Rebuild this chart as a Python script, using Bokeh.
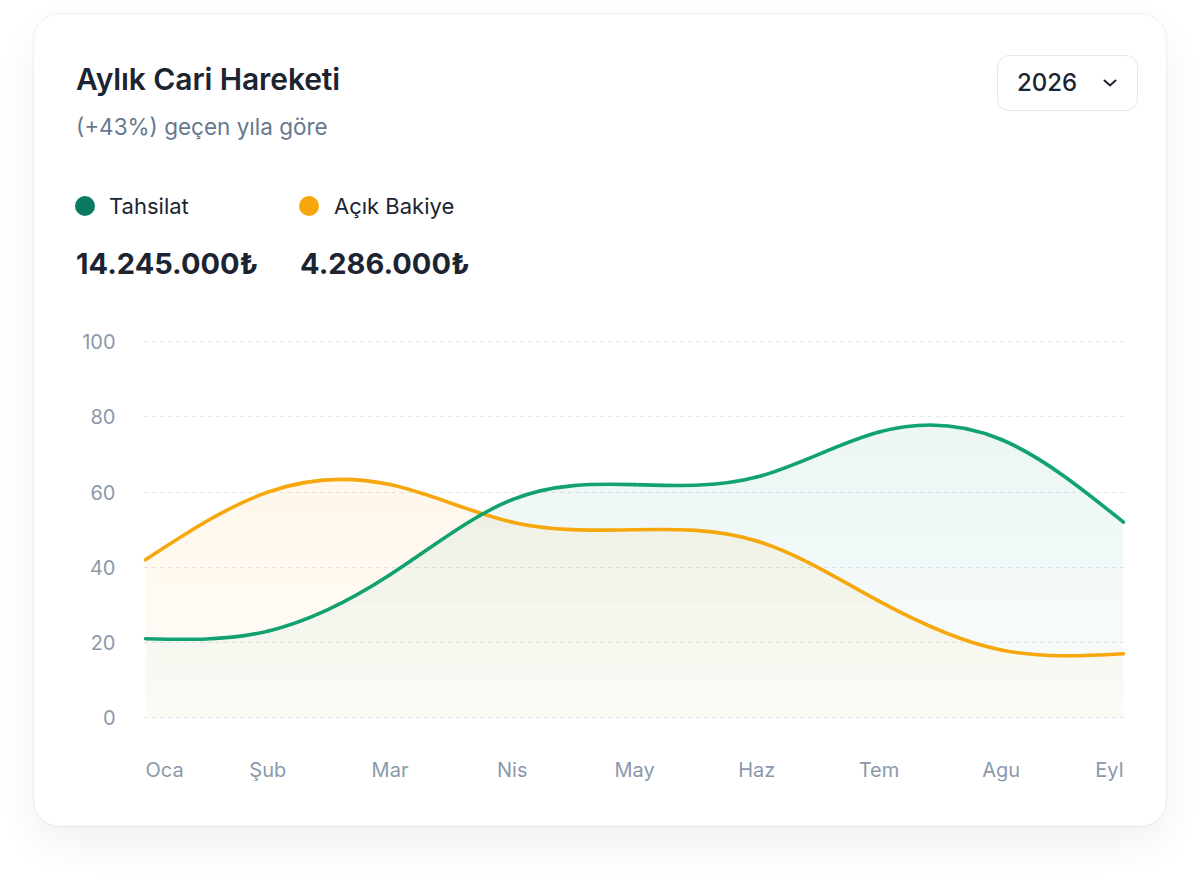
import numpy as np
from bokeh.plotting import figure
from bokeh.models import Div, Range1d, FixedTicker
from bokeh.layouts import column
from bokeh.core.properties import value
from bokeh.embed import file_html
from bokeh.resources import INLINE

months = ["Oca", "Şub", "Mar", "Nis", "May", "Haz", "Tem", "Agu", "Eyl"]
tahsilat = [21, 23, 38, 58, 62, 64, 76, 74, 52]
acik_bakiye = [42, 60, 62, 52, 50, 47, 31, 18, 17]
y_ticks = [0, 20, 40, 60, 80, 100]

title = "Aylık Cari Hareketi"
subtitle = "(+43%) geçen yıla göre"
year = "2026"
series_names = ["Tahsilat", "Açık Bakiye"]
totals = ["14.245.000₺", "4.286.000₺"]

GREEN = "#12a272"
GREEN_FILL = "#10b981"
DOT_GREEN = "#0a7a63"
ORANGE = "#f6a70b"
ORANGE_FILL = "#f8bb10"
AXIS_TEXT = "#8a99ab"
FONT = "Inter"
LABEL_ROW = -14  # month names sit under the zero line


def natural_bezier(ys):
    """Bezier segments of a natural cubic spline through evenly spaced points."""
    y = np.asarray(ys, dtype=float)
    n = len(y)
    a = np.zeros((n, n))
    rhs = np.zeros(n)
    a[0, 0] = a[-1, -1] = 1
    for i in range(1, n - 1):
        a[i, i - 1:i + 2] = [1, 4, 1]
        rhs[i] = 6 * (y[i + 1] - 2 * y[i] + y[i - 1])
    m = np.linalg.solve(a, rhs)
    x0 = np.arange(n - 1, dtype=float)
    d = np.diff(y)
    s0 = d - (2 * m[:-1] + m[1:]) / 6
    s1 = d + (m[:-1] + 2 * m[1:]) / 6
    return dict(x0=x0, y0=y[:-1], x1=x0 + 1, y1=y[1:],
                cx0=x0 + 1 / 3, cy0=y[:-1] + s0 / 3,
                cx1=x0 + 2 / 3, cy1=y[1:] - s1 / 3)


def trace(seg, steps=30):
    # points along the bezier segments, used for the area fill
    t = np.linspace(0, 1, steps)[:, None]
    out = []
    for k in ("x", "y"):
        p0, c0, c1, p1 = seg[k + "0"], seg["c" + k + "0"], seg["c" + k + "1"], seg[k + "1"]
        v = ((1 - t) ** 3) * p0 + 3 * ((1 - t) ** 2) * t * c0 + 3 * (1 - t) * t ** 2 * c1 + t ** 3 * p1
        out.append(v.T.ravel())
    return out[0], out[1]


p = figure(width=1132, height=522, x_range=Range1d(-0.0164, 8.0164), y_range=Range1d(-17, 103),
           output_backend="svg", toolbar_location=None,
           min_border_left=109, min_border_right=41, min_border_top=26, min_border_bottom=45,
           background_fill_color=None, border_fill_color=None, outline_line_color=None)

# faint vertical gradient under each curve, built from stacked layers
for values, color, base, step, start in ((tahsilat, GREEN_FILL, 0.022, 0.008, 10),
                                         (acik_bakiye, ORANGE_FILL, 0.026, 0.008, 5)):
    xs, ys = trace(natural_bezier(values))
    p.varea(x=xs, y1=0, y2=ys, fill_color=color, fill_alpha=base)
    for lo in range(start, 100, 10):
        p.varea(x=xs, y1=np.minimum(ys, lo), y2=ys, fill_color=color, fill_alpha=step)

for values, color in ((acik_bakiye, ORANGE), (tahsilat, GREEN)):
    p.bezier(line_color=color, line_width=3.6, line_cap="round", **natural_bezier(values))

# month labels: first one left-aligned, last one right-aligned
aligns = ["left"] + ["center"] * (len(months) - 2) + ["right"]
p.text(x=list(range(len(months))), y=[LABEL_ROW] * len(months), text=months,
       text_align=aligns, text_baseline="middle", text_font=value(FONT),
       text_font_size="20px", text_color=AXIS_TEXT)

p.xaxis.visible = False
p.yaxis.ticker = FixedTicker(ticks=y_ticks)
p.yaxis.axis_line_color = None
p.yaxis.major_tick_line_color = None
p.yaxis.minor_tick_line_color = None
p.yaxis.major_tick_out = 0
p.yaxis.major_label_text_font = FONT
p.yaxis.major_label_text_font_size = "20px"
p.yaxis.major_label_text_color = AXIS_TEXT
p.yaxis.major_label_standoff = 28

p.xgrid.visible = False
p.ygrid.ticker = FixedTicker(ticks=y_ticks)
p.ygrid.grid_line_color = "#e1e5ea"
p.ygrid.grid_line_dash = "4 4"
p.ygrid.grid_line_width = 1

header = Div(width=1132, height=290, margin=0, text=f"""
<div style="position:relative;width:1132px;height:290px;font-family:Inter,sans-serif;color:#1d2431;">
  <div style="position:absolute;left:42px;top:50px;font-size:30px;font-weight:600;line-height:30px;letter-spacing:-0.1px;white-space:nowrap;">{title}</div>
  <div style="position:absolute;left:42px;top:102px;font-size:22.5px;line-height:22.5px;color:#66788f;white-space:nowrap;">{subtitle}</div>
  <div style="position:absolute;left:963px;top:41px;width:141px;height:56px;box-sizing:border-box;border:1.5px solid #e6e8ec;border-radius:12px;display:flex;align-items:center;">
    <span style="position:absolute;left:19px;font-size:24px;line-height:24px;font-weight:500;">{year}</span>
    <svg style="position:absolute;left:105px;top:23px;" width="14" height="8"><polyline points="1.5,1.5 7,6.5 12.5,1.5" stroke="#1d2431" stroke-width="2" fill="none" stroke-linecap="round"/></svg>
  </div>
  <div style="position:absolute;left:41px;top:182px;width:20px;height:20px;border-radius:50%;background:{DOT_GREEN};"></div>
  <div style="position:absolute;left:75px;top:181px;font-size:22px;line-height:22px;white-space:nowrap;">{series_names[0]}</div>
  <div style="position:absolute;left:265px;top:182px;width:20px;height:20px;border-radius:50%;background:{ORANGE};"></div>
  <div style="position:absolute;left:300px;top:181px;font-size:22px;line-height:22px;white-space:nowrap;">{series_names[1]}</div>
  <div style="position:absolute;left:42px;top:235px;font-size:29px;line-height:29px;font-weight:700;white-space:nowrap;">{totals[0]}</div>
  <div style="position:absolute;left:266px;top:235px;font-size:29px;line-height:29px;font-weight:700;white-space:nowrap;">{totals[1]}</div>
</div>
""")

root = column(header, p, width=1132, margin=(14, 0, 0, 34), styles={
    "background-color": "#ffffff",
    "border-radius": "26px",
    "box-shadow": "0 0 0 1px rgba(17,24,39,0.05), 0 18px 40px rgba(17,24,39,0.06)",
})

open("out.html", "w").write(file_html(root, INLINE))
